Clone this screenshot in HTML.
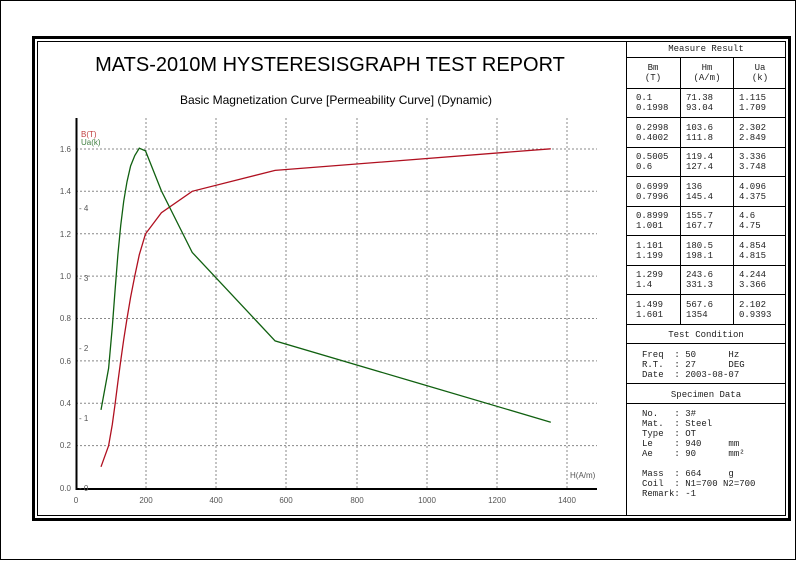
<!DOCTYPE html>
<html><head><meta charset="utf-8"><style>
body{margin:0;background:#fff}
svg text{font-family:"Liberation Sans",sans-serif}
svg .m text{font-family:"Liberation Mono",monospace;font-size:9px;fill:#222}
</style></head><body>
<svg width="796" height="560" xmlns="http://www.w3.org/2000/svg">
<rect x="0.5" y="0.5" width="795" height="559" fill="#fff" stroke="#000"/>
<rect x="33.5" y="37.5" width="756" height="482" fill="none" stroke="#000" stroke-width="3"/>
<rect x="37.5" y="41.5" width="748" height="474" fill="none" stroke="#000" stroke-width="1"/>
<line x1="626.5" y1="41" x2="626.5" y2="516" stroke="#000"/>
<text x="330" y="71" font-size="20" text-anchor="middle" fill="#000">MATS-2010M HYSTERESISGRAPH TEST REPORT</text>
<text x="336" y="104" font-size="12" text-anchor="middle" fill="#000">Basic Magnetization Curve [Permeability Curve] (Dynamic)</text>
<g stroke="#888" stroke-dasharray="2,2" stroke-width="1">
<line x1="76" y1="445.6" x2="597" y2="445.6"/><line x1="76" y1="403.2" x2="597" y2="403.2"/>
<line x1="76" y1="360.9" x2="597" y2="360.9"/><line x1="76" y1="318.5" x2="597" y2="318.5"/>
<line x1="76" y1="276.1" x2="597" y2="276.1"/><line x1="76" y1="233.7" x2="597" y2="233.7"/>
<line x1="76" y1="191.3" x2="597" y2="191.3"/><line x1="76" y1="149" x2="597" y2="149"/>
<line x1="146" y1="118" x2="146" y2="488"/><line x1="216" y1="118" x2="216" y2="488"/>
<line x1="286" y1="118" x2="286" y2="488"/><line x1="357" y1="118" x2="357" y2="488"/>
<line x1="427" y1="118" x2="427" y2="488"/><line x1="497" y1="118" x2="497" y2="488"/>
<line x1="567" y1="118" x2="567" y2="488"/>
</g>
<line x1="76.5" y1="118" x2="76.5" y2="490" stroke="#000" stroke-width="2"/>
<line x1="76" y1="489" x2="597" y2="489" stroke="#000" stroke-width="2"/>
<g font-size="8" fill="#555" text-anchor="end">
<text x="71" y="491">0.0</text><text x="71" y="448">0.2</text><text x="71" y="406">0.4</text>
<text x="71" y="364">0.6</text><text x="71" y="321">0.8</text><text x="71" y="279">1.0</text>
<text x="71" y="237">1.2</text><text x="71" y="194">1.4</text><text x="71" y="152">1.6</text>
</g>
<g font-size="8" fill="#555">
<text x="79" y="491">- 0</text><text x="79" y="421">- 1</text><text x="79" y="351">- 2</text>
<text x="79" y="281">- 3</text><text x="79" y="211">- 4</text>
</g>
<g font-size="8" fill="#555" text-anchor="middle">
<text x="76" y="503">0</text><text x="146" y="503">200</text><text x="216" y="503">400</text>
<text x="286" y="503">600</text><text x="357" y="503">800</text><text x="427" y="503">1000</text>
<text x="497" y="503">1200</text><text x="567" y="503">1400</text>
</g>
<text x="570" y="478" font-size="8" fill="#555">H(A/m)</text>
<text x="81" y="137" font-size="8" fill="#c04040">B(T)</text>
<text x="81" y="145" font-size="8" fill="#408040">Ua(k)</text>
<polyline fill="none" stroke="#b01020" stroke-width="1.3" points="101,466.8 108.6,445.7 112.3,424.5 115.2,403.2 117.9,381.9 120.7,360.9 123.7,339.7 127,318.6 130.6,297.3 134.8,275.9 139.3,254.7 145.5,233.9 161.4,212.7 192.2,191.3 275.1,170.4 550.8,148.8"/>
<polyline fill="none" stroke="#106010" stroke-width="1.3" points="101,409.9 108.6,368.4 112.3,326.9 115.2,288.6 117.9,254.5 120.7,225.6 123.7,201.3 127,181.7 130.6,166 134.8,155.5 139.3,148.2 145.5,150.9 161.4,190.9 192.2,252.4 275.1,340.9 550.8,422.2"/>
<g stroke="#000" stroke-width="1">
<line x1="626" y1="57.5" x2="786" y2="57.5"/>
<line x1="626" y1="88.5" x2="786" y2="88.5"/>
<line x1="626" y1="117.5" x2="786" y2="117.5"/>
<line x1="626" y1="147.5" x2="786" y2="147.5"/>
<line x1="626" y1="176.5" x2="786" y2="176.5"/>
<line x1="626" y1="206.5" x2="786" y2="206.5"/>
<line x1="626" y1="235.5" x2="786" y2="235.5"/>
<line x1="626" y1="265.5" x2="786" y2="265.5"/>
<line x1="626" y1="294.5" x2="786" y2="294.5"/>
<line x1="626" y1="324.5" x2="786" y2="324.5"/>
<line x1="626" y1="343.5" x2="786" y2="343.5"/>
<line x1="626" y1="383.5" x2="786" y2="383.5"/>
<line x1="626" y1="403.5" x2="786" y2="403.5"/>
<line x1="680.5" y1="57" x2="680.5" y2="324"/>
<line x1="733.5" y1="57" x2="733.5" y2="324"/>
</g>
<g class="m" text-anchor="middle">
<text x="706" y="51">Measure Result</text>
<text x="653" y="70">Bm</text><text x="653" y="80">(T)</text>
<text x="707" y="70">Hm</text><text x="707" y="80">(A/m)</text>
<text x="760" y="70">Ua</text><text x="760" y="80">(k)</text>
<text x="706" y="337">Test Condition</text>
<text x="706" y="397">Specimen Data</text>
</g>
<g class="m">
<text x="636" y="100">0.1</text><text x="636" y="110">0.1998</text><text x="686" y="100">71.38</text><text x="686" y="110">93.04</text><text x="739" y="100">1.115</text><text x="739" y="110">1.709</text>
<text x="636" y="130">0.2998</text><text x="636" y="140">0.4002</text><text x="686" y="130">103.6</text><text x="686" y="140">111.8</text><text x="739" y="130">2.302</text><text x="739" y="140">2.849</text>
<text x="636" y="159">0.5005</text><text x="636" y="169">0.6</text><text x="686" y="159">119.4</text><text x="686" y="169">127.4</text><text x="739" y="159">3.336</text><text x="739" y="169">3.748</text>
<text x="636" y="189">0.6999</text><text x="636" y="199">0.7996</text><text x="686" y="189">136</text><text x="686" y="199">145.4</text><text x="739" y="189">4.096</text><text x="739" y="199">4.375</text>
<text x="636" y="218">0.8999</text><text x="636" y="228">1.001</text><text x="686" y="218">155.7</text><text x="686" y="228">167.7</text><text x="739" y="218">4.6</text><text x="739" y="228">4.75</text>
<text x="636" y="248">1.101</text><text x="636" y="258">1.199</text><text x="686" y="248">180.5</text><text x="686" y="258">198.1</text><text x="739" y="248">4.854</text><text x="739" y="258">4.815</text>
<text x="636" y="277">1.299</text><text x="636" y="287">1.4</text><text x="686" y="277">243.6</text><text x="686" y="287">331.3</text><text x="739" y="277">4.244</text><text x="739" y="287">3.366</text>
<text x="636" y="307">1.499</text><text x="636" y="317">1.601</text><text x="686" y="307">567.6</text><text x="686" y="317">1354</text><text x="739" y="307">2.102</text><text x="739" y="317">0.9393</text>
<text x="642" y="357" xml:space="preserve">Freq  : 50      Hz</text>
<text x="642" y="367" xml:space="preserve">R.T.  : 27      DEG</text>
<text x="642" y="377" xml:space="preserve">Date  : 2003-08-07</text>
<text x="642" y="416" xml:space="preserve">No.   : 3#</text>
<text x="642" y="426" xml:space="preserve">Mat.  : Steel</text>
<text x="642" y="436" xml:space="preserve">Type  : OT</text>
<text x="642" y="446" xml:space="preserve">Le    : 940     mm</text>
<text x="642" y="456" xml:space="preserve">Ae    : 90      mm²</text>
<text x="642" y="476" xml:space="preserve">Mass  : 664     g</text>
<text x="642" y="486" xml:space="preserve">Coil  : N1=700 N2=700</text>
<text x="642" y="496" xml:space="preserve">Remark: -1</text>
</g>
</svg>
</body></html>
